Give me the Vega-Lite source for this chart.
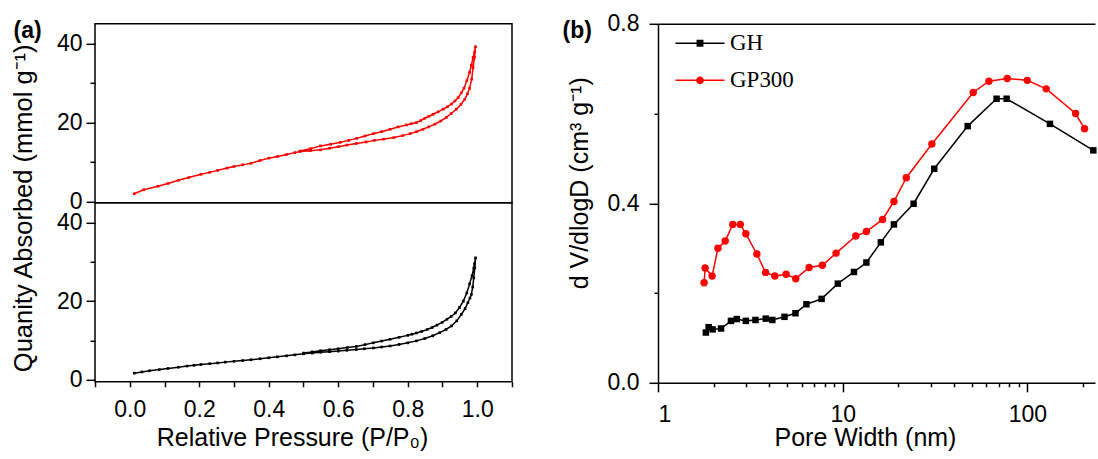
{
  "$schema": "https://vega.github.io/schema/vega-lite/v6.json",
  "background": "white",
  "padding": {"left": 10, "top": 11.8, "right": 0, "bottom": 0},
  "datasets": {
    "isoGP": [
      {"i":1,"P":0.013,"Q":2.0},{"i":2,"P":0.04,"Q":3.0},{"i":3,"P":0.081,"Q":3.9},{"i":4,"P":0.11,"Q":4.6},{"i":5,"P":0.14,"Q":5.4},{"i":6,"P":0.17,"Q":6.1},{"i":7,"P":0.205,"Q":6.9},{"i":8,"P":0.23,"Q":7.4},{"i":9,"P":0.253,"Q":7.9},{"i":10,"P":0.28,"Q":8.5},{"i":11,"P":0.3,"Q":8.9},{"i":12,"P":0.325,"Q":9.3},{"i":13,"P":0.349,"Q":9.7},{"i":14,"P":0.375,"Q":10.4},{"i":15,"P":0.4,"Q":11.0},{"i":16,"P":0.425,"Q":11.4},{"i":17,"P":0.451,"Q":11.9},{"i":18,"P":0.475,"Q":12.4},{"i":19,"P":0.49,"Q":12.7},{"i":20,"P":0.52,"Q":12.9},{"i":21,"P":0.549,"Q":13.1},{"i":22,"P":0.575,"Q":13.5},{"i":23,"P":0.601,"Q":13.9},{"i":24,"P":0.625,"Q":14.3},{"i":25,"P":0.652,"Q":14.7},{"i":26,"P":0.68,"Q":15.1},{"i":27,"P":0.704,"Q":15.5},{"i":28,"P":0.73,"Q":15.8},{"i":29,"P":0.76,"Q":16.2},{"i":30,"P":0.785,"Q":16.7},{"i":31,"P":0.807,"Q":17.2},{"i":32,"P":0.825,"Q":17.7},{"i":33,"P":0.844,"Q":18.3},{"i":34,"P":0.86,"Q":18.9},{"i":35,"P":0.878,"Q":19.6},{"i":36,"P":0.895,"Q":20.4},{"i":37,"P":0.911,"Q":21.3},{"i":38,"P":0.925,"Q":22.3},{"i":39,"P":0.94,"Q":23.4},{"i":40,"P":0.953,"Q":24.6},{"i":41,"P":0.964,"Q":25.9},{"i":42,"P":0.972,"Q":27.3},{"i":43,"P":0.978,"Q":28.7},{"i":44,"P":0.984,"Q":31.0},{"i":45,"P":0.988,"Q":33.9},{"i":46,"P":0.992,"Q":36.5},{"i":47,"P":0.995,"Q":39.2},
      {"i":48,"P":0.992,"Q":37.8},{"i":49,"P":0.988,"Q":36.5},{"i":50,"P":0.983,"Q":34.5},{"i":51,"P":0.978,"Q":32.7},{"i":52,"P":0.97,"Q":30.6},{"i":53,"P":0.962,"Q":28.7},{"i":54,"P":0.954,"Q":27.5},{"i":55,"P":0.945,"Q":26.3},{"i":56,"P":0.936,"Q":25.5},{"i":57,"P":0.926,"Q":24.7},{"i":58,"P":0.914,"Q":24.0},{"i":59,"P":0.902,"Q":23.4},{"i":60,"P":0.887,"Q":22.7},{"i":61,"P":0.873,"Q":22.1},{"i":62,"P":0.861,"Q":21.6},{"i":63,"P":0.849,"Q":21.1},{"i":64,"P":0.837,"Q":20.5},{"i":65,"P":0.825,"Q":20.0},{"i":66,"P":0.81,"Q":19.7},{"i":67,"P":0.796,"Q":19.4},{"i":68,"P":0.772,"Q":18.9},{"i":69,"P":0.749,"Q":18.3},{"i":70,"P":0.725,"Q":17.7},{"i":71,"P":0.701,"Q":17.2},{"i":72,"P":0.677,"Q":16.6},{"i":73,"P":0.653,"Q":16.0},{"i":74,"P":0.63,"Q":15.5},{"i":75,"P":0.606,"Q":15.0},{"i":76,"P":0.578,"Q":14.5},{"i":77,"P":0.549,"Q":14.1},{"i":78,"P":0.52,"Q":13.4},{"i":79,"P":0.49,"Q":12.8}
    ],
    "isoGH": [
      {"i":1,"P":0.013,"Q":1.7},{"i":2,"P":0.035,"Q":2.0},{"i":3,"P":0.057,"Q":2.3},{"i":4,"P":0.085,"Q":2.6},{"i":5,"P":0.11,"Q":2.9},{"i":6,"P":0.14,"Q":3.2},{"i":7,"P":0.165,"Q":3.5},{"i":8,"P":0.185,"Q":3.7},{"i":9,"P":0.205,"Q":3.9},{"i":10,"P":0.23,"Q":4.1},{"i":11,"P":0.253,"Q":4.3},{"i":12,"P":0.275,"Q":4.5},{"i":13,"P":0.3,"Q":4.7},{"i":14,"P":0.325,"Q":4.9},{"i":15,"P":0.349,"Q":5.1},{"i":16,"P":0.375,"Q":5.35},{"i":17,"P":0.4,"Q":5.6},{"i":18,"P":0.425,"Q":5.85},{"i":19,"P":0.451,"Q":6.1},{"i":20,"P":0.475,"Q":6.35},{"i":21,"P":0.5,"Q":6.6},{"i":22,"P":0.525,"Q":6.8},{"i":23,"P":0.549,"Q":7.0},{"i":24,"P":0.575,"Q":7.15},{"i":25,"P":0.6,"Q":7.3},{"i":26,"P":0.625,"Q":7.5},{"i":27,"P":0.652,"Q":7.7},{"i":28,"P":0.675,"Q":7.9},{"i":29,"P":0.701,"Q":8.1},{"i":30,"P":0.725,"Q":8.35},{"i":31,"P":0.749,"Q":8.6},{"i":32,"P":0.775,"Q":9.0},{"i":33,"P":0.8,"Q":9.4},{"i":34,"P":0.825,"Q":9.9},{"i":35,"P":0.849,"Q":10.5},{"i":36,"P":0.872,"Q":11.2},{"i":37,"P":0.892,"Q":12.0},{"i":38,"P":0.91,"Q":12.8},{"i":39,"P":0.926,"Q":13.7},{"i":40,"P":0.941,"Q":15.0},{"i":41,"P":0.954,"Q":16.6},{"i":42,"P":0.965,"Q":18.1},{"i":43,"P":0.973,"Q":19.6},{"i":44,"P":0.979,"Q":20.8},{"i":45,"P":0.983,"Q":21.7},{"i":46,"P":0.987,"Q":23.6},{"i":47,"P":0.99,"Q":25.9},{"i":48,"P":0.993,"Q":28.5},{"i":49,"P":0.995,"Q":31.0},
      {"i":50,"P":0.992,"Q":29.5},{"i":51,"P":0.99,"Q":28.4},{"i":52,"P":0.985,"Q":26.5},{"i":53,"P":0.978,"Q":24.4},{"i":54,"P":0.97,"Q":22.1},{"i":55,"P":0.96,"Q":20.0},{"i":56,"P":0.949,"Q":18.4},{"i":57,"P":0.937,"Q":17.0},{"i":58,"P":0.925,"Q":16.1},{"i":59,"P":0.913,"Q":15.4},{"i":60,"P":0.899,"Q":14.6},{"i":61,"P":0.884,"Q":13.9},{"i":62,"P":0.87,"Q":13.3},{"i":63,"P":0.856,"Q":12.8},{"i":64,"P":0.84,"Q":12.3},{"i":65,"P":0.825,"Q":11.9},{"i":66,"P":0.812,"Q":11.6},{"i":67,"P":0.8,"Q":11.3},{"i":68,"P":0.775,"Q":10.8},{"i":69,"P":0.749,"Q":10.3},{"i":70,"P":0.725,"Q":9.85},{"i":71,"P":0.701,"Q":9.4},{"i":72,"P":0.677,"Q":8.95},{"i":73,"P":0.652,"Q":8.5},{"i":74,"P":0.626,"Q":8.2},{"i":75,"P":0.6,"Q":7.9},{"i":76,"P":0.575,"Q":7.65},{"i":77,"P":0.549,"Q":7.4},{"i":78,"P":0.525,"Q":7.1},{"i":79,"P":0.5,"Q":6.8}
    ],
    "psd": [
      {"s":"GH","D":1.816,"V":0.112},{"s":"GH","D":1.88,"V":0.124},{"s":"GH","D":1.977,"V":0.119},{"s":"GH","D":2.194,"V":0.121},{"s":"GH","D":2.483,"V":0.138},{"s":"GH","D":2.673,"V":0.142},{"s":"GH","D":2.99,"V":0.138},{"s":"GH","D":3.37,"V":0.14},{"s":"GH","D":3.83,"V":0.143},{"s":"GH","D":4.16,"V":0.14},{"s":"GH","D":4.84,"V":0.147},{"s":"GH","D":5.55,"V":0.155},{"s":"GH","D":6.36,"V":0.175},{"s":"GH","D":7.69,"V":0.187},{"s":"GH","D":9.41,"V":0.221},{"s":"GH","D":11.51,"V":0.247},{"s":"GH","D":13.44,"V":0.268},{"s":"GH","D":16.09,"V":0.313},{"s":"GH","D":18.94,"V":0.353},{"s":"GH","D":24.2,"V":0.399},{"s":"GH","D":31.3,"V":0.477},{"s":"GH","D":47.5,"V":0.572},{"s":"GH","D":68.1,"V":0.633},{"s":"GH","D":77.2,"V":0.633},{"s":"GH","D":132.5,"V":0.577},{"s":"GH","D":227.5,"V":0.518},
      {"s":"GP300","D":1.777,"V":0.223},{"s":"GP300","D":1.8,"V":0.256},{"s":"GP300","D":1.963,"V":0.238},{"s":"GP300","D":2.112,"V":0.3},{"s":"GP300","D":2.311,"V":0.316},{"s":"GP300","D":2.54,"V":0.353},{"s":"GP300","D":2.79,"V":0.353},{"s":"GP300","D":2.99,"V":0.332},{"s":"GP300","D":3.43,"V":0.287},{"s":"GP300","D":3.82,"V":0.246},{"s":"GP300","D":4.29,"V":0.238},{"s":"GP300","D":4.94,"V":0.242},{"s":"GP300","D":5.57,"V":0.232},{"s":"GP300","D":6.58,"V":0.257},{"s":"GP300","D":7.76,"V":0.262},{"s":"GP300","D":9.21,"V":0.289},{"s":"GP300","D":11.77,"V":0.327},{"s":"GP300","D":13.44,"V":0.337},{"s":"GP300","D":16.45,"V":0.364},{"s":"GP300","D":18.94,"V":0.404},{"s":"GP300","D":22.1,"V":0.457},{"s":"GP300","D":30.4,"V":0.532},{"s":"GP300","D":50.9,"V":0.647},{"s":"GP300","D":61.9,"V":0.672},{"s":"GP300","D":77.8,"V":0.678},{"s":"GP300","D":99.8,"V":0.674},{"s":"GP300","D":126.5,"V":0.655},{"s":"GP300","D":182.4,"V":0.6},{"s":"GP300","D":204,"V":0.566}
    ]
  },
  "spacing": 48,
  "resolve": {"scale": {"color": "independent", "shape": "independent", "size": "independent"}, "legend": {"color": "independent", "shape": "independent", "size": "independent"}},
  "hconcat": [
    {
      "bounds": "flush",
      "spacing": 0,
      "vconcat": [
        {
          "width": 417,
          "height": 179,
          "data": {"name": "isoGP"},
          "encoding": {
            "x": {"field": "P", "type": "quantitative", "scale": {"domain": [-0.1, 1.1], "nice": false, "zero": false},
                  "axis": {"orient": "top", "labels": false, "ticks": false, "domain": false, "title": "(a)", "titleX": -82, "titleY": 14, "titleBaseline": "alphabetic", "titleAlign": "left", "titleFontWeight": "bold", "titleFontSize": 23}},
            "y": {"field": "Q", "type": "quantitative", "scale": {"domain": [-0.3, 45], "nice": false, "zero": false},
                  "axis": {"values": [0, 10, 20, 30, 40, 45], "labelOverlap": false, "labelExpr": "(datum.value % 20 === 0 || datum.value === 45) ? datum.label : ''", "labelColor": {"condition": {"test": "datum.value === 45", "value": "transparent"}, "value": "black"}, "tickColor": {"condition": {"test": "datum.value === 45", "value": "transparent"}, "value": "black"}, "tickSize": {"condition": {"test": "datum.value % 20 === 0", "value": 9}, "value": 5}, "labelPadding": 4, "title": null}},
            "order": {"field": "i", "type": "quantitative"}
          },
          "layer": [
            {"mark": {"type": "line", "color": "#ff0000", "strokeWidth": 1.5}},
            {"mark": {"type": "point", "shape": "square", "filled": true, "color": "#ff0000", "size": 7, "opacity": 1}}
          ]
        },
        {
          "width": 417,
          "height": 179,
          "data": {"name": "isoGH"},
          "encoding": {
            "x": {"field": "P", "type": "quantitative", "scale": {"domain": [-0.1, 1.1], "nice": false, "zero": false},
                  "axis": {"values": [-0.1, 0, 0.1, 0.2, 0.3, 0.4, 0.5, 0.6, 0.7, 0.8, 0.9, 1.0, 1.1], "labelOverlap": false, "format": ".1f", "labelExpr": "(abs(round(datum.value*10)) % 2 === 0 && datum.value > -0.05 && datum.value < 1.05) ? datum.label : ''", "tickSize": 5, "labelPadding": 12, "title": "Relative Pressure (P/P₀)", "titleFontSize": 25, "titleX": 197, "titleY": 64, "titleBaseline": "alphabetic"}},
            "y": {"field": "Q", "type": "quantitative", "scale": {"domain": [-0.5, 45], "nice": false, "zero": false},
                  "axis": {"values": [0, 10, 20, 30, 40], "labelOverlap": false, "labelExpr": "datum.value % 20 === 0 ? datum.label : ''", "tickSize": {"condition": {"test": "datum.value % 20 === 0", "value": 9}, "value": 5}, "labelPadding": 4, "title": "Quanity Absorbed (mmol g⁻¹)", "titleFontSize": 25.5, "titleX": -59, "titleY": 5}},
            "order": {"field": "i", "type": "quantitative"}
          },
          "layer": [
            {"mark": {"type": "line", "color": "black", "strokeWidth": 1.5}},
            {"mark": {"type": "point", "shape": "square", "filled": true, "color": "black", "size": 7, "opacity": 1}}
          ]
        }
      ]
    },
    {
      "width": 437,
      "height": 359,
      "view": {"stroke": null},
      "data": {"name": "psd"},
      "resolve": {"axis": {"x": "independent"}},
      "layer": [
        {
          "mark": {"type": "line", "strokeWidth": 1.5},
          "encoding": {
            "x": {"field": "D", "type": "quantitative", "scale": {"type": "log", "domain": [1, 232.3], "nice": false},
                  "axis": {"values": [1, 2, 3, 4, 5, 6, 7, 8, 9, 10, 20, 30, 40, 50, 60, 70, 80, 90, 100, 200], "labelOverlap": false, "format": "d", "labelExpr": "(datum.value === 1 || datum.value === 10 || datum.value === 100) ? datum.label : ''", "tickSize": {"condition": {"test": "datum.value === 1 || datum.value === 10 || datum.value === 100", "value": 9}, "value": 4}, "labelPadding": 12, "domain": true, "domainColor": "black", "domainWidth": 1.5, "title": "Pore Width (nm)", "titleFontSize": 25, "titleX": 207, "titleY": 63, "titleBaseline": "alphabetic"}},
            "y": {"field": "V", "type": "quantitative", "scale": {"domain": [0, 0.8], "nice": false, "zero": false},
                  "axis": {"values": [0, 0.2, 0.4, 0.6, 0.8], "labelOverlap": false, "format": ".1f", "labelExpr": "(datum.value === 0 || datum.value === 0.4 || datum.value === 0.8) ? datum.label : ''", "tickSize": {"condition": {"test": "datum.value === 0 || datum.value === 0.4 || datum.value === 0.8", "value": 9}, "value": 4}, "labelPadding": 10, "domain": true, "domainColor": "black", "domainWidth": 1.5, "title": "d V/dlogD (cm³ g⁻¹)", "titleFontSize": 25, "titleX": -65, "titleY": 159}},
            "color": {"field": "s", "type": "nominal", "scale": {"domain": ["GH", "GP300"], "range": ["black", "#ff0000"]},
                      "legend": {"title": null, "orient": "none", "legendX": 17.5, "legendY": -5, "rowPadding": -16, "labelOffset": 5.5,
                                 "encode": {"symbols": {"update": {
                                   "shape": [{"test": "datum.value === 'GH'", "value": "M-1,-0.03L1,-0.03L1,0.03L-1,0.03Z M-0.14,-0.14L0.14,-0.14L0.14,0.14L-0.14,0.14Z"}, {"value": "M-1,-0.03L1,-0.03L1,0.03L-1,0.03Z M0.16,0 A0.16,0.16 0 1,1 -0.16,0 A0.16,0.16 0 1,1 0.16,0Z"}],
                                   "fill": [{"test": "datum.value === 'GH'", "value": "black"}, {"value": "#ff0000"}],
                                   "stroke": {"value": "transparent"},
                                   "strokeWidth": {"value": 0},
                                   "opacity": {"value": 1},
                                   "fillOpacity": {"value": 1},
                                   "size": {"value": 2401}
                                 }}}}}
          }
        },
        {
          "mark": {"type": "point", "filled": true, "opacity": 1},
          "encoding": {
            "x": {"field": "D", "type": "quantitative",
                  "axis": {"orient": "top", "labels": false, "ticks": false, "domain": true, "domainColor": "black", "domainWidth": 1.5, "title": "(b)", "titleX": -96, "titleY": 14, "titleBaseline": "alphabetic", "titleAlign": "left", "titleFontWeight": "bold", "titleFontSize": 23}},
            "y": {"field": "V", "type": "quantitative"},
            "color": {"field": "s", "type": "nominal", "scale": {"domain": ["GH", "GP300"], "range": ["black", "#ff0000"]},
                      "legend": {"title": null, "orient": "none", "legendX": 17.5, "legendY": -5, "rowPadding": -16, "labelOffset": 5.5,
                                 "encode": {"symbols": {"update": {
                                   "shape": [{"test": "datum.value === 'GH'", "value": "M-1,-0.03L1,-0.03L1,0.03L-1,0.03Z M-0.14,-0.14L0.14,-0.14L0.14,0.14L-0.14,0.14Z"}, {"value": "M-1,-0.03L1,-0.03L1,0.03L-1,0.03Z M0.16,0 A0.16,0.16 0 1,1 -0.16,0 A0.16,0.16 0 1,1 0.16,0Z"}],
                                   "fill": [{"test": "datum.value === 'GH'", "value": "black"}, {"value": "#ff0000"}],
                                   "stroke": {"value": "transparent"},
                                   "strokeWidth": {"value": 0},
                                   "opacity": {"value": 1},
                                   "fillOpacity": {"value": 1},
                                   "size": {"value": 2401}
                                 }}}}},
            "shape": {"field": "s", "type": "nominal", "scale": {"domain": ["GP300", "GH"], "range": ["circle", "square"]}, "legend": null},
            "size": {"field": "s", "type": "nominal", "scale": {"domain": ["GP300", "GH"], "range": [55, 42]}, "legend": null}
          }
        }
      ]
    }
  ],
  "config": {
    "font": "Liberation Sans",
    "view": {"stroke": "black", "strokeWidth": 1.5},
    "axis": {"domain": false, "grid": false, "labelFont": "Liberation Sans", "labelFontSize": 23, "labelColor": "black", "titleFont": "Liberation Sans", "titleFontSize": 24, "titleFontWeight": "normal", "titleColor": "black", "tickColor": "black", "tickWidth": 1.5},
    "legend": {"labelFont": "Liberation Serif", "labelFontSize": 23, "labelColor": "black", "symbolSize": 400, "padding": 0, "rowPadding": -16, "labelOffset": 19.5}
  }
}
